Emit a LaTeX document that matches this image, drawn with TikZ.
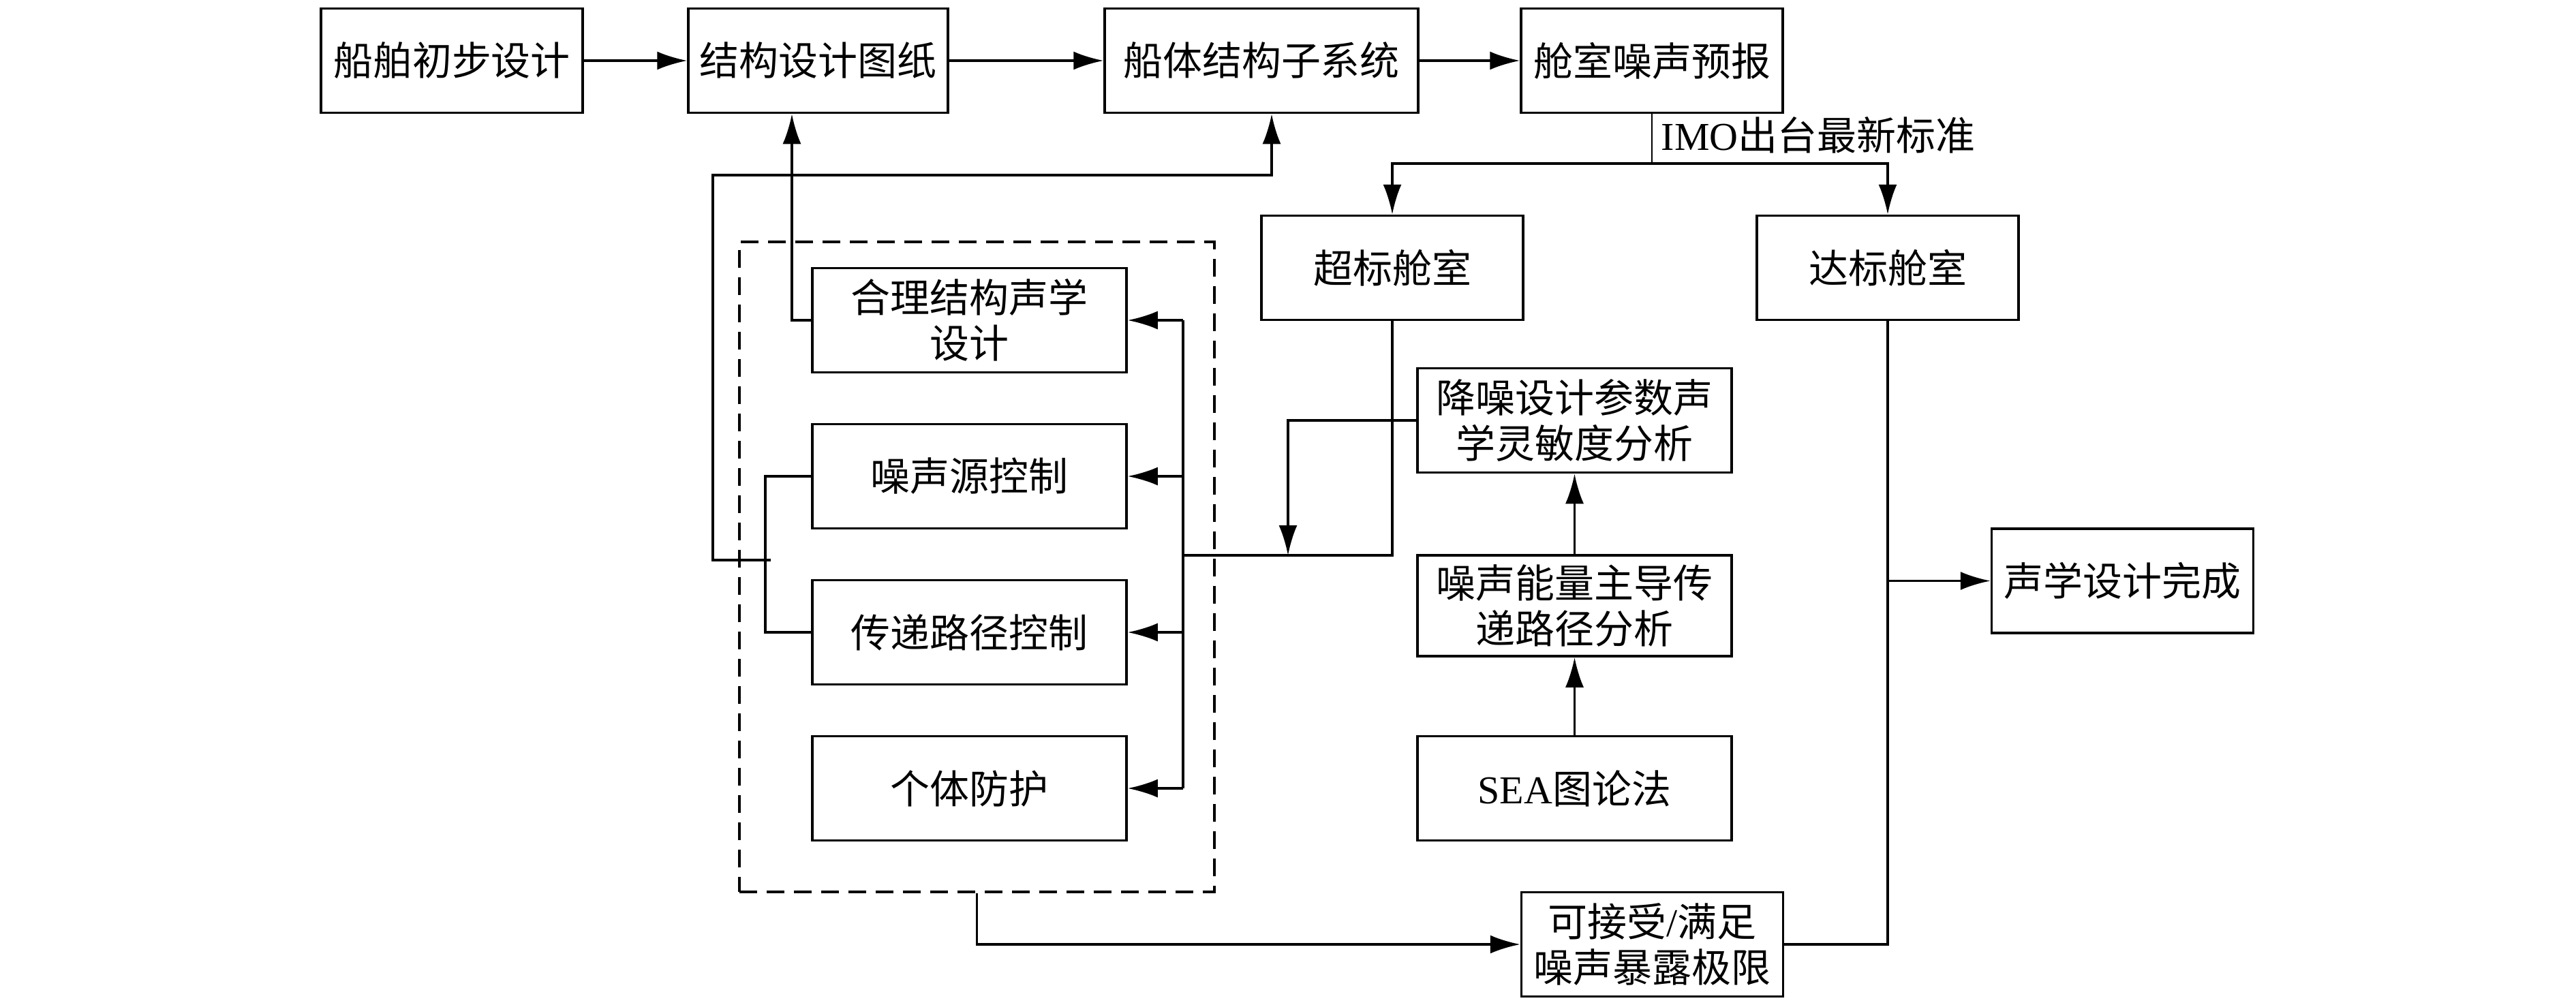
\documentclass[tikz,border=0pt]{standalone}
\usepackage{fontspec}
\setmainfont{Liberation Serif}
\newfontfamily\cjk{Noto Sans CJK SC}
\usetikzlibrary{arrows.meta}

\begin{document}
\begin{tikzpicture}[line width=1pt,
    every node/.style={font=\cjk\fontsize{16.5}{19}\selectfont, align=center},
    box/.style={draw, minimum width=3.84cm, minimum height=1.53cm, inner sep=0pt},
    wbox/.style={box, minimum width=4.61cm},
    arr/.style={-{Latex[length=4.4mm,width=2.7mm]}}]
    \useasboundingbox (0,0) rectangle (37.8,-14.74);

    % Design chain
    \node[box] (prelim) at (6.63,-0.89) {船舶初步设计};
    \node[box, minimum width=3.81cm] (drawing) at (12.005,-0.89) {结构设计图纸};
    \node[box, minimum width=4.60cm] (hull) at (18.51,-0.89) {船体结构子系统};
    \node[box] (predict) at (24.24,-0.89) {舱室噪声预报};
    \draw[arr] (prelim) -- (drawing);
    \draw[arr] (drawing) -- (hull);
    \draw[arr] (hull) -- (predict);

    % Prediction checked against the standard
    \node[box] (over) at (20.43,-3.93) {超标舱室};
    \node[box] (meet) at (27.70,-3.93) {达标舱室};
    \coordinate (split) at (24.24,-2.40);
    \draw[line width=0.6pt] (predict) -- (split);
    \draw[arr] (split) -| (over);
    \draw[arr] (split) -| (meet);
    \node[anchor=west, inner sep=0pt] (imo) at (24.36,-1.98) {{\rmfamily IMO}出台最新标准};

    % Noise control measures
    \node[draw, dash pattern=on 0.26cm off 0.14cm, minimum width=6.97cm, minimum height=9.54cm] (frame) at (14.335,-8.32) {};
    \node[wbox] (struct) at (14.225,-4.70) {合理结构声学\\设计};
    \node[wbox] (source) at (14.225,-6.99) {噪声源控制};
    \node[wbox] (trans) at (14.225,-9.28) {传递路径控制};
    \node[wbox] (protect) at (14.225,-11.57) {个体防护};

    % Feed line to the measures
    \coordinate (bustop) at (17.36,-4.70);
    \coordinate (busbot) at (17.36,-11.57);
    \draw (bustop) -- (busbot);
    \draw[arr] (bustop) -- (struct);
    \draw[arr] (bustop |- source) -- (source);
    \draw[arr] (bustop |- trans) -- (trans);
    \draw[arr] (busbot) -- (protect);

    % Back to the drawings and the hull subsystem
    \coordinate (up1) at (11.62,-4.70);
    \draw[arr] (struct.west) -- (up1) -- (up1 |- drawing.south);
    \coordinate (brk) at (11.23,-8.22);
    \draw (source.west) -| (brk) |- (trans.west);
    \coordinate (fb) at (10.46,-2.57);
    \coordinate (hullin) at (18.66,-2.57);
    \draw[arr] ([xshift=0.8mm]brk) -| (fb) -- (hullin) -- (hullin |- hull.south);

    % Sensitivity analysis
    \node[wbox] (sens) at (23.105,-6.17) {降噪设计参数声\\学灵敏度分析};
    \node[wbox, minimum height=1.48cm] (path) at (23.105,-8.89) {噪声能量主导传\\递路径分析};
    \node[wbox] (sea) at (23.105,-11.57) {{\rmfamily SEA}图论法};
    \draw[arr] (sea) -- (path);
    \draw[arr] (path) -- (sens);

    % Over-limit cabins go back to the measures
    \coordinate (join) at (20.43,-8.15);
    \draw (over) -- (join) -- (bustop |- join);
    \coordinate (drop) at (18.90,-8.15);
    \draw[arr] (sens.west) -| (drop);

    % Acceptance and finish
    \node[box] (accept) at (24.245,-13.86) {可接受{\rmfamily /}满足\\噪声暴露极限};
    \node[box] (done) at (31.145,-8.525) {声学设计完成};
    \draw[arr] (frame.south) |- (accept.west);
    \draw (accept.east) -| (meet.south);
    \draw[arr] (meet.south |- done) -- (done);

\end{tikzpicture}
\end{document}
